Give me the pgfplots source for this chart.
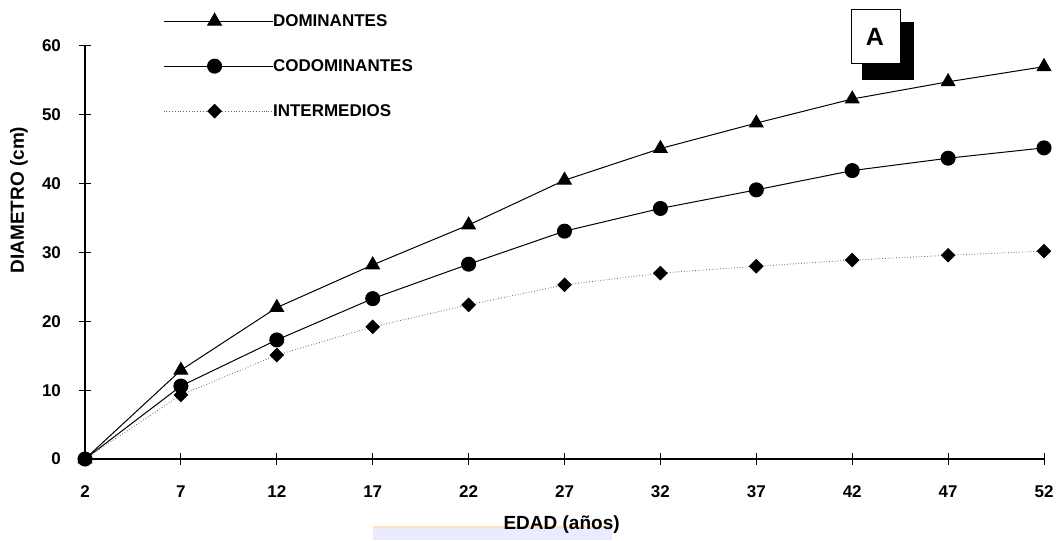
\documentclass[border=0pt]{standalone}
\usepackage{pgfplots}
\pgfplotsset{compat=1.18}
\usepackage{fontspec}
\setmainfont{Liberation Sans}
\begin{document}
\begin{tikzpicture}
\useasboundingbox (0,0) rectangle (529pt,270pt);
% faint scan watermark behind x label
\fill[blue!8] (186.5pt,0pt) rectangle (306pt,6.5pt);
\draw[orange!25,line width=1pt] (186.5pt,6.5pt) -- (306pt,6.5pt);
\begin{axis}[
  at={(42.5pt,40.5pt)}, anchor=south west,
  scale only axis, width=479.5pt, height=206.5pt,
  xmin=2, xmax=52, ymin=0, ymax=60,
  axis x line*=bottom, axis y line*=left,
  xtick={2,7,...,52}, ytick={0,10,...,60},
  tick align=center, major tick length=6pt,
  tick style={black, line width=0.5pt},
  axis line style={line width=0.6pt},
  clip=false,
  /pgf/number format/assume math mode=true,
  tick label style={font=\bfseries\fontsize{8.5}{10}\selectfont},
  xticklabel style={yshift=-7pt},
  yticklabel style={xshift=-5.5pt},
  xlabel={EDAD (años)}, ylabel={DIAMETRO (cm)},
  every axis x label/.style={at={(axis description cs:0.497,-0.16)}, anchor=center, font=\bfseries\fontsize{9.5}{11}\selectfont},
  every axis y label/.style={at={(axis description cs:-0.0688,0.627)}, rotate=90, anchor=center, font=\bfseries\fontsize{9.5}{11}\selectfont},
  legend style={at={(axis description cs:0.081,1.08)}, anchor=north west, draw=none, fill=none,
    font=\bfseries\fontsize{8.5}{10}\selectfont, row sep=15pt, inner sep=0pt,
    nodes={inner sep=0pt, text height=6.5pt, text depth=1pt}},
  legend cell align=left,
  legend image code/.code={\draw[mark repeat=2,mark phase=2,#1] plot coordinates {(0pt,0pt)(25.5pt,0pt)(51pt,0pt)}; \path (51pt,0pt) -- (54.5pt,0pt);},
]
\addplot[black, line width=0.5pt, mark=triangle*, mark size=3.9pt, mark options={solid}] coordinates {
(2,0) (7,12.9) (12,22) (17,28.2) (22,34) (27,40.5) (32,45.1) (37,48.8) (42,52.3) (47,54.8) (52,57)};
\addlegendentry{DOMINANTES}
\addplot[black, line width=0.5pt, mark=*, mark size=3.5pt, mark options={solid}] coordinates {
(2,0) (7,10.6) (12,17.3) (17,23.3) (22,28.3) (27,33.1) (32,36.4) (37,39.1) (42,41.9) (47,43.7) (52,45.2)};
\addlegendentry{CODOMINANTES}
\addplot[black!60, line width=0.4pt, densely dotted, mark=square*, mark size=2.4pt, mark options={solid, black, rotate=45}] coordinates {
(2,0) (7,9.3) (12,15.1) (17,19.2) (22,22.4) (27,25.3) (32,27) (37,28) (42,28.9) (47,29.6) (52,30.2)};
\addlegendentry{INTERMEDIOS}
\end{axis}
% label box "A" with shadow
\fill[black] (431pt,230pt) rectangle (457pt,259pt);
\filldraw[fill=white, draw=black, line width=0.5pt] (425.5pt,238pt) rectangle (450pt,265pt);
\node[font=\bfseries\fontsize{12.5}{14}\selectfont] at (437.5pt,251.5pt) {A};
\end{tikzpicture}
\end{document}
